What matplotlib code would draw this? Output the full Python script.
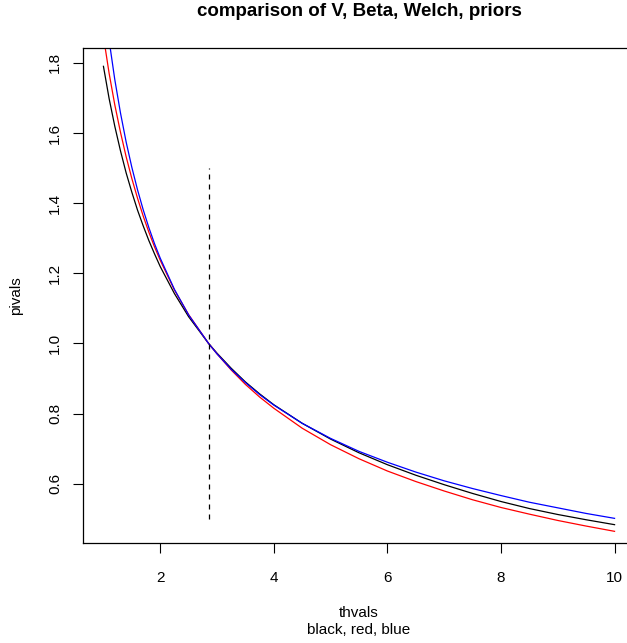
import numpy as np
import matplotlib
matplotlib.use("Agg")
import matplotlib.pyplot as plt

plt.rcParams['font.family'] = ['Liberation Sans', 'DejaVu Sans']

# values
thvals = [1.0, 1.1, 1.2, 1.3, 1.4, 1.5, 1.6, 1.7, 1.8, 1.9, 2.0, 2.25, 2.5,
          2.85, 3.0, 3.25, 3.5, 3.75, 4.0, 4.5, 5.0, 5.5, 6.0, 6.5, 7.0,
          7.5, 8.0, 8.5, 9.0, 9.5, 10.0]
pi_v = [1.790, 1.698, 1.619, 1.549, 1.486, 1.431, 1.380, 1.335, 1.293, 1.255,
        1.219, 1.142, 1.076, 1.0, 0.972, 0.929, 0.890, 0.856, 0.825, 0.772,
        0.727, 0.688, 0.654, 0.624, 0.597, 0.572, 0.549, 0.529, 0.512,
        0.497, 0.483]
pi_beta = [1.875, 1.770, 1.680, 1.602, 1.532, 1.470, 1.414, 1.363, 1.317,
           1.275, 1.237, 1.152, 1.082, 1.0, 0.970, 0.924, 0.883, 0.847, 0.815,
           0.758, 0.711, 0.671, 0.636, 0.606, 0.579, 0.554, 0.532, 0.513,
           0.495, 0.479, 0.464]
pi_welch = [1.996, 1.864, 1.752, 1.657, 1.574, 1.502, 1.438, 1.381, 1.330,
            1.284, 1.243, 1.154, 1.081, 1.0, 0.970, 0.926, 0.888, 0.854,
            0.824, 0.772, 0.729, 0.692, 0.661, 0.633, 0.608, 0.586, 0.566,
            0.547, 0.531, 0.515, 0.501]
th_mark = 2.85
mark_range = [0.5, 1.5]

W, H = 627, 643
fig = plt.figure(figsize=(W / 100, H / 100), dpi=100)
# plot region runs past the right edge of the picture
ax = fig.add_axes([83 / W, 1 - 543 / H, (635 - 83) / W, (543 - 48) / H])

ax.plot(thvals, pi_v, color='black', lw=0.9)
ax.plot(thvals, pi_beta, color='#ff0000', lw=0.9)
ax.plot(thvals, pi_welch, color='#0000ff', lw=0.9)
ax.plot([th_mark, th_mark], mark_range, color='black', lw=0.9,
        linestyle=(0, (4, 4)))

# R style 4% padding around the black curve
yr = max(pi_v) - min(pi_v)
ax.set_ylim(min(pi_v) - 0.04 * yr, max(pi_v) + 0.04 * yr)
xr = max(thvals) - min(thvals)
ax.set_xlim(min(thvals) - 0.04 * xr, max(thvals) + 0.04 * xr)

ax.set_xticks([2, 4, 6, 8, 10])
ax.set_yticks([0.6, 0.8, 1.0, 1.2, 1.4, 1.6, 1.8])
ax.set_yticklabels(['0.6', '0.8', '1.0', '1.2', '1.4', '1.6', '1.8'],
                   rotation=90, va='center')
ax.tick_params(direction='out', length=7, width=0.8, labelsize=11, pad=13)
ax.tick_params(axis='y', pad=8)
for s in ax.spines.values():
    s.set_linewidth(0.9)

ax.set_xlabel('thvals\nblack, red, blue', fontsize=11, labelpad=15,
              linespacing=1.35)
ax.set_ylabel('pivals', fontsize=11, labelpad=18)
ax.set_title('comparison of V, Beta, Welch, priors', fontsize=13.5,
             fontweight='bold', pad=23)

fig.savefig('out.png', dpi=100)
